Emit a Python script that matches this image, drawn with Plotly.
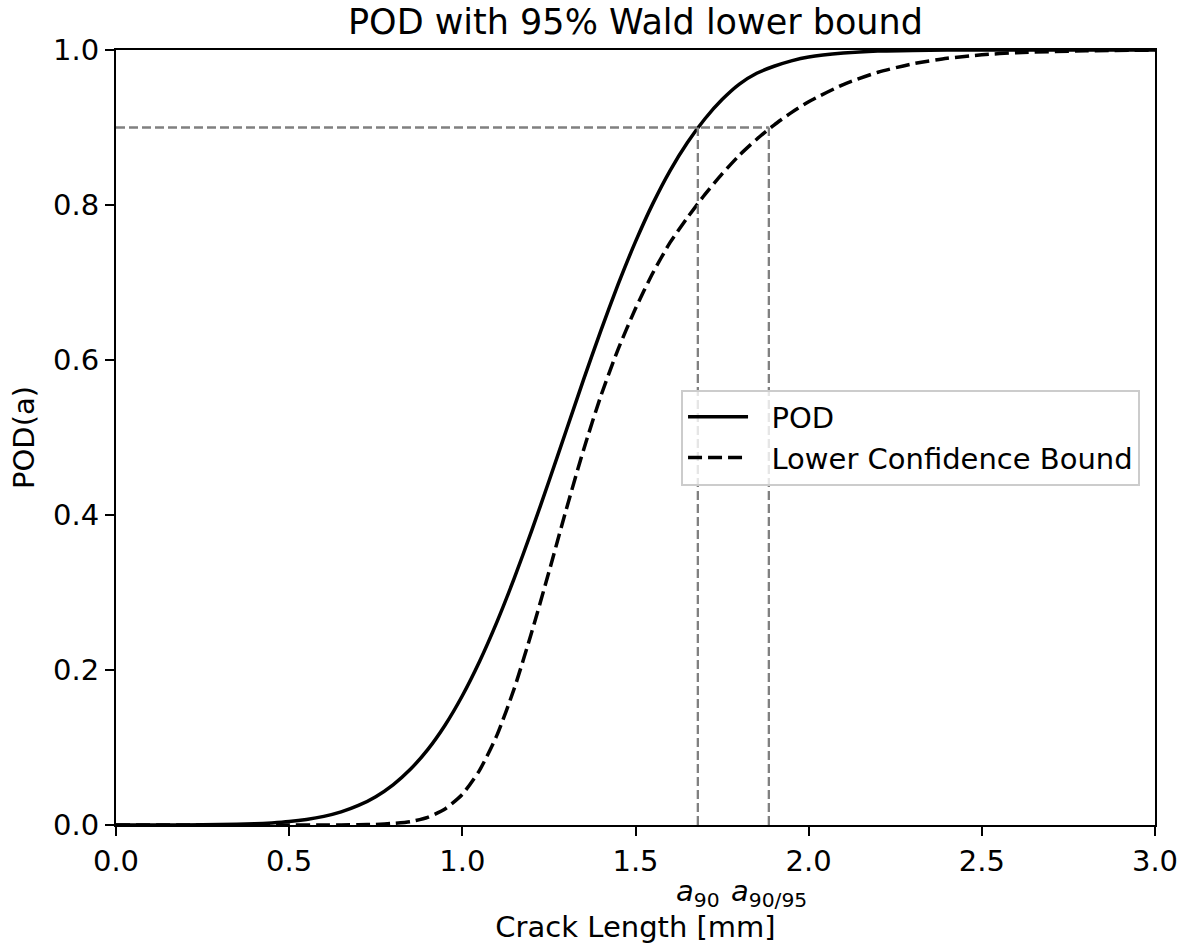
import plotly.graph_objects as go

# ---- data ----
crack_pod = [0.0, 0.1, 0.2, 0.3, 0.4, 0.45, 0.5, 0.55, 0.6, 0.65, 0.7, 0.75, 0.8, 0.85, 0.9,
             0.95, 1.0, 1.05, 1.1, 1.15, 1.2, 1.25, 1.3, 1.35, 1.4, 1.45, 1.5, 1.55, 1.6,
             1.65, 1.7, 1.75, 1.8, 1.85, 1.9, 1.95, 2.0, 2.1, 2.2, 2.3, 2.4, 2.5, 2.75, 3.0]
pod_values = [0.0, 0.00004, 0.00015, 0.0005, 0.0016, 0.0027, 0.0044, 0.0071, 0.0111, 0.0169,
              0.0252, 0.0366, 0.0519, 0.0719, 0.0973, 0.1288, 0.1668, 0.2113, 0.2621, 0.3185,
              0.3794, 0.4435, 0.509, 0.5746, 0.638, 0.6978, 0.7527, 0.8018, 0.8445, 0.8807,
              0.911, 0.936, 0.956, 0.970, 0.979, 0.986, 0.991, 0.996, 0.9986, 0.9995, 0.9999,
              1.0, 1.0, 1.0]

crack_lcb = [0.0, 0.5, 0.6, 0.65, 0.7, 0.75, 0.8, 0.85, 0.9, 0.95, 1.0, 1.05, 1.1, 1.15, 1.2,
             1.25, 1.3, 1.35, 1.4, 1.45, 1.5, 1.55, 1.6, 1.65, 1.7, 1.75, 1.8, 1.85, 1.9, 1.95,
             2.0, 2.1, 2.2, 2.3, 2.4, 2.5, 2.6, 2.8, 3.0]
lcb_values = [0.0, 0.0, 0.00003, 0.0001, 0.0003, 0.0008, 0.0021, 0.0044, 0.0099, 0.0207,
              0.0396, 0.0708, 0.1160, 0.1762, 0.2483, 0.3264, 0.4071, 0.4840, 0.5537, 0.6141,
              0.6664, 0.7123, 0.7517, 0.7838, 0.8133, 0.8401, 0.8643, 0.8849, 0.9032, 0.9192,
              0.9332, 0.9554, 0.9713, 0.9821, 0.9893, 0.9938, 0.9965, 0.9990, 0.9998]

pod_target = 0.9
a90 = 1.68
a90_95 = 1.885

x_ticks = [0.0, 0.5, 1.0, 1.5, 2.0, 2.5, 3.0]
y_ticks = [0.0, 0.2, 0.4, 0.6, 0.8, 1.0]

FONT = "DejaVu Sans"
FS = 29
GAP = "\u00a0\u00a0"

fig = go.Figure()

fig.add_trace(go.Scatter(x=crack_pod, y=pod_values, mode="lines", name=GAP + "POD",
                         line=dict(color="black", width=3.5, shape="spline", smoothing=0.6)))
fig.add_trace(go.Scatter(x=crack_lcb, y=lcb_values, mode="lines",
                         name=GAP + "Lower Confidence Bound",
                         line=dict(color="black", width=3.5, dash="14px,6px", shape="spline",
                                   smoothing=0.6)))

gray = dict(color="#808080", width=2.3, dash="9px,4px")
fig.add_trace(go.Scatter(x=[0, a90_95], y=[pod_target, pod_target], mode="lines",
                         line=gray, showlegend=False, hoverinfo="skip"))
fig.add_trace(go.Scatter(x=[a90, a90], y=[0, pod_target], mode="lines",
                         line=gray, showlegend=False, hoverinfo="skip"))
fig.add_trace(go.Scatter(x=[a90_95, a90_95], y=[0, pod_target], mode="lines",
                         line=gray, showlegend=False, hoverinfo="skip"))

axis_common = dict(showgrid=False, zeroline=False, showline=True, mirror=True,
                   linecolor="black", linewidth=2, ticks="outside", ticklen=9,
                   tickwidth=2, tickcolor="black",
                   tickfont=dict(family=FONT, size=FS, color="black"))

fig.update_xaxes(range=[0, 3], tickvals=x_ticks,
                 ticktext=[f"{v:.1f}" for v in x_ticks],
                 title=dict(text="Crack Length [mm]", standoff=40,
                            font=dict(family=FONT, size=FS, color="black")),
                 **axis_common)
fig.update_yaxes(range=[0, 1], tickvals=y_ticks,
                 ticktext=[f"{v:.1f}" for v in y_ticks],
                 title=dict(text="POD(a)", standoff=10,
                            font=dict(family=FONT, size=FS, color="black")),
                 **axis_common)

for xv, lbl in [(a90, "<i>a</i><sub>90</sub>"), (a90_95, "<i>a</i><sub>90/95</sub>")]:
    fig.add_annotation(x=xv, xref="x", y=-0.088, yref="paper", text=lbl,
                       showarrow=False, xanchor="center", yanchor="middle",
                       font=dict(family=FONT, size=FS, color="black"))

fig.update_layout(
    width=1188, height=950,
    margin=dict(l=116, r=33, t=50, b=125, autoexpand=False),
    paper_bgcolor="white", plot_bgcolor="white",
    title=dict(text="POD with 95% Wald lower bound", x=0.5349, xanchor="center",
               y=1 - 22 / 950, yanchor="middle",
               font=dict(family=FONT, size=35, color="black")),
    font=dict(family=FONT, color="black"),
    legend=dict(x=0.9856, xanchor="right", y=0.5, yanchor="middle",
                bgcolor="rgba(255,255,255,0.8)", bordercolor="#cccccc", borderwidth=2,
                font=dict(family=FONT, size=FS, color="black"),
                itemwidth=60, tracegroupgap=4),
    showlegend=True,
)

fig.write_html("out.html")
